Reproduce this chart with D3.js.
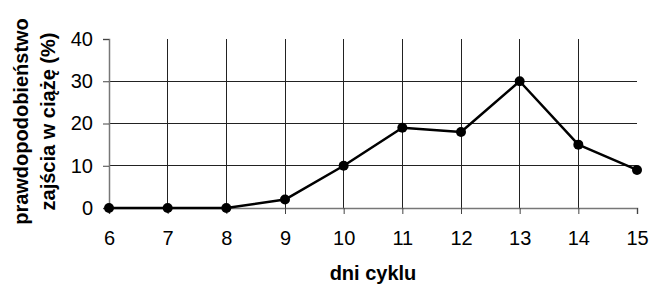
<!DOCTYPE html>
<html>
<head>
<meta charset="utf-8">
<script src="https://cdn.jsdelivr.net/npm/d3@7"></script>
<style>
  html, body { margin: 0; padding: 0; background: #fff; }
  svg { display: block; }
  text { font-family: Arial, "Liberation Sans", sans-serif; fill: #000; }
</style>
</head>
<body>
<svg id="chart" width="650" height="285"></svg>
<script>
const days = [6, 7, 8, 9, 10, 11, 12, 13, 14, 15];
const probability = [0, 0, 0, 2, 10, 19, 18, 30, 15, 9];
const yTicks = [0, 10, 20, 30, 40];
const xTitle = "dni cyklu";
const yTitleLines = ["prawdopodobieństwo", "zajścia w ciążę (%)"];

const svg = d3.select("#chart");
const x = d3.scaleLinear().domain([6, 15]).range([109, 637]);
const y = d3.scaleLinear().domain([0, 40]).range([208, 39]);

// grid
svg.append("g").selectAll("line").data(yTicks.filter(d => d > 0 && d < 40)).join("line")
  .attr("x1", x(6)).attr("x2", x(15)).attr("y1", d => y(d)).attr("y2", d => y(d))
  .attr("stroke", "#222").attr("stroke-width", 1).attr("shape-rendering", "crispEdges");
svg.append("g").selectAll("line").data(days.filter(d => d > 6 && d < 15)).join("line")
  .attr("x1", d => x(d)).attr("x2", d => x(d)).attr("y1", y(40)).attr("y2", y(0))
  .attr("stroke", "#222").attr("stroke-width", 1).attr("shape-rendering", "crispEdges");

// axes
const xAxis = d3.axisBottom(x).tickValues(days).tickFormat(d3.format("d")).tickSize(6).tickPadding(17);
const gx = svg.append("g").attr("transform", `translate(0,${y(0)})`).call(xAxis);
const yAxis = d3.axisLeft(y).tickValues(yTicks).tickSize(6).tickPadding(10);
const gy = svg.append("g").attr("transform", `translate(${x(6)},0)`).call(yAxis);
[gx, gy].forEach(g => {
  g.select(".domain").attr("stroke", "#777").attr("stroke-width", 1.5);
  g.selectAll(".tick line").attr("stroke", "#444");
  g.selectAll("text").style("font-size", "20px").attr("font-family", "Arial, 'Liberation Sans', sans-serif");
});

// line
svg.append("path").datum(days.map((d, i) => [d, probability[i]]))
  .attr("fill", "none").attr("stroke", "#000").attr("stroke-width", 2.5)
  .attr("stroke-linejoin", "round")
  .attr("d", d3.line().x(d => x(d[0])).y(d => y(d[1])));
svg.append("g").selectAll("circle").data(days.map((d, i) => [d, probability[i]])).join("circle")
  .attr("cx", d => x(d[0])).attr("cy", d => y(d[1])).attr("r", 5).attr("fill", "#000");

// titles
svg.append("text").attr("x", (x(6) + x(15)) / 2).attr("y", 280)
  .attr("text-anchor", "middle").style("font-size", "20px").style("font-weight", "bold").text(xTitle);
const yt = svg.append("text").attr("transform", `translate(0,${(y(0) + y(40)) / 2 - 2}) rotate(-90)`)
  .attr("text-anchor", "middle").style("font-size", "20px").style("font-weight", "bold");
yt.selectAll("tspan").data(yTitleLines).join("tspan")
  .attr("x", 0).attr("y", (d, i) => 28 + i * 27).text(d => d);
</script>
</body>
</html>
